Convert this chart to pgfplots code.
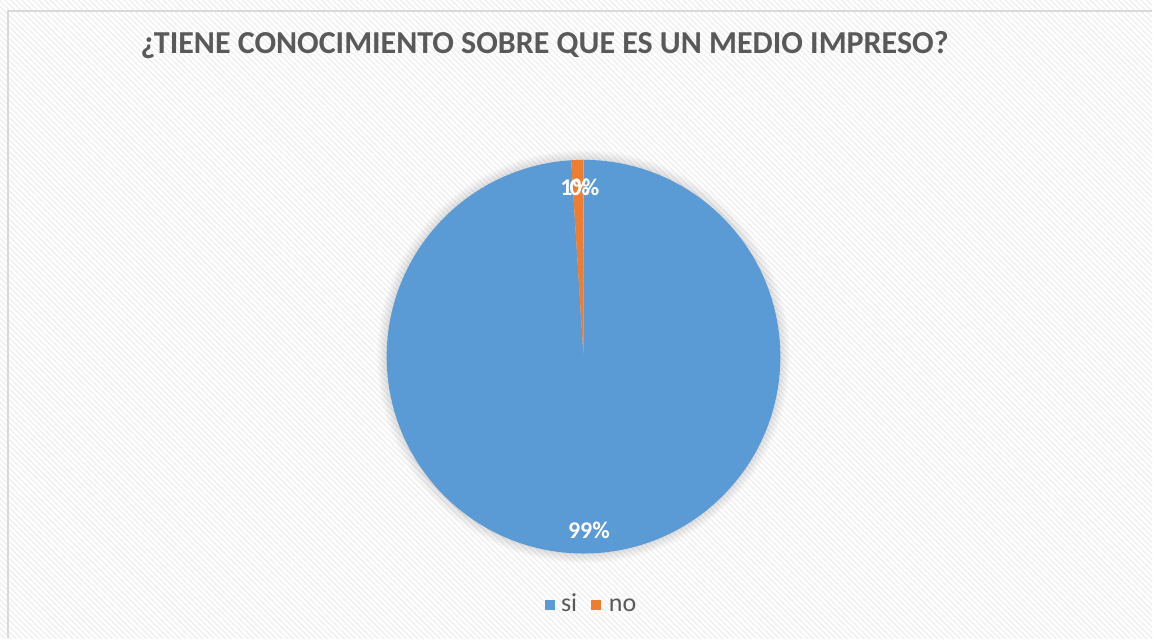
\documentclass[border=0pt]{standalone}
\usepackage{pgfplots}
\pgfplotsset{compat=1.18}
\usepackage{pgfplotstable}
\usepackage{fontspec}
\setmainfont{Carlito}
\usetikzlibrary{patterns.meta}
\definecolor{siblue}{HTML}{5B9BD5}
\definecolor{noorange}{HTML}{ED7D31}
\definecolor{txtgray}{HTML}{595959}
\definecolor{framegray}{HTML}{D9D9D9}
\pgfplotstableread{
label value
si 99
no 1
}\piedata
\pgfplotstablegetelem{0}{value}\of\piedata \let\vsi\pgfplotsretval
\pgfplotstablegetelem{1}{value}\of\piedata \let\vno\pgfplotsretval
\pgfmathsetmacro{\tot}{\vsi+\vno}
\pgfmathsetmacro{\asi}{360*(\vsi/\tot)}
\pgfmathsetmacro{\ano}{360*(\vno/\tot)}
\pgfmathsetmacro{\bno}{90-\asi}
\pgfmathsetmacro{\msi}{90-\asi/2}
\pgfmathsetmacro{\mno}{90-\asi-\ano/2}
\begin{document}
\begin{tikzpicture}[x=0.4pt,y=0.4pt]
% background
\fill[white] (0,0) rectangle (1153,639);
\fill[pattern={Lines[angle=-45,distance=1.6pt,line width=0.55pt]},pattern color=black!6] (0,0) rectangle (1153,639);
\draw[framegray,line width=0.8pt] (8,0) -- (8,628) -- (1153,628);
% title
\node[font=\bfseries\fontsize{12.8pt}{15pt}\selectfont,text=txtgray] at (545,594) {¿TIENE CONOCIMIENTO SOBRE QUE ES UN MEDIO IMPRESO?};
% pie
\begin{axis}[at={(233.6pt,112.8pt)},anchor=center,width=157.6pt,height=157.6pt,scale only axis,
  hide axis,xmin=-1,xmax=1,ymin=-1,ymax=1,clip=false]
\pgfplotsinvokeforeach{1,...,10}{
  \fill[black,opacity=0.012] (axis cs:0,0) circle[radius={78.8pt+#1*0.4pt}];
}
\fill[siblue] (axis cs:0,0) -- (axis cs:0,1) arc[start angle=90,delta angle=-\asi,radius=78.8pt] -- cycle;
\fill[noorange] (axis cs:0,0) -- (axis cs:{cos(\bno)},{sin(\bno)}) arc[start angle=\bno,delta angle=-\ano,radius=78.8pt] -- cycle;
\node[font=\bfseries\fontsize{9.6pt}{11pt}\selectfont,text=white] at (axis cs:{0.885*cos(\msi)},{0.885*sin(\msi)}) {99\%};
\node[font=\bfseries\fontsize{9.6pt}{11pt}\selectfont,text=white] at (axis cs:{0.86*cos(\mno)-0.015},{0.86*sin(\mno)}) {1\%};
\node[font=\bfseries\fontsize{9.6pt}{11pt}\selectfont,text=white] at (axis cs:{0.005},{0.86}) {0\%};
\end{axis}
% legend
\fill[siblue] (545,28) rectangle (555,38);
\node[anchor=base west,font=\fontsize{10.4pt}{12pt}\selectfont,text=txtgray,inner sep=0pt] at (561,27) {si};
\fill[noorange] (592,28) rectangle (602,38);
\node[anchor=base west,font=\fontsize{10.4pt}{12pt}\selectfont,text=txtgray,inner sep=0pt] at (609,27) {no};
\end{tikzpicture}
\end{document}
